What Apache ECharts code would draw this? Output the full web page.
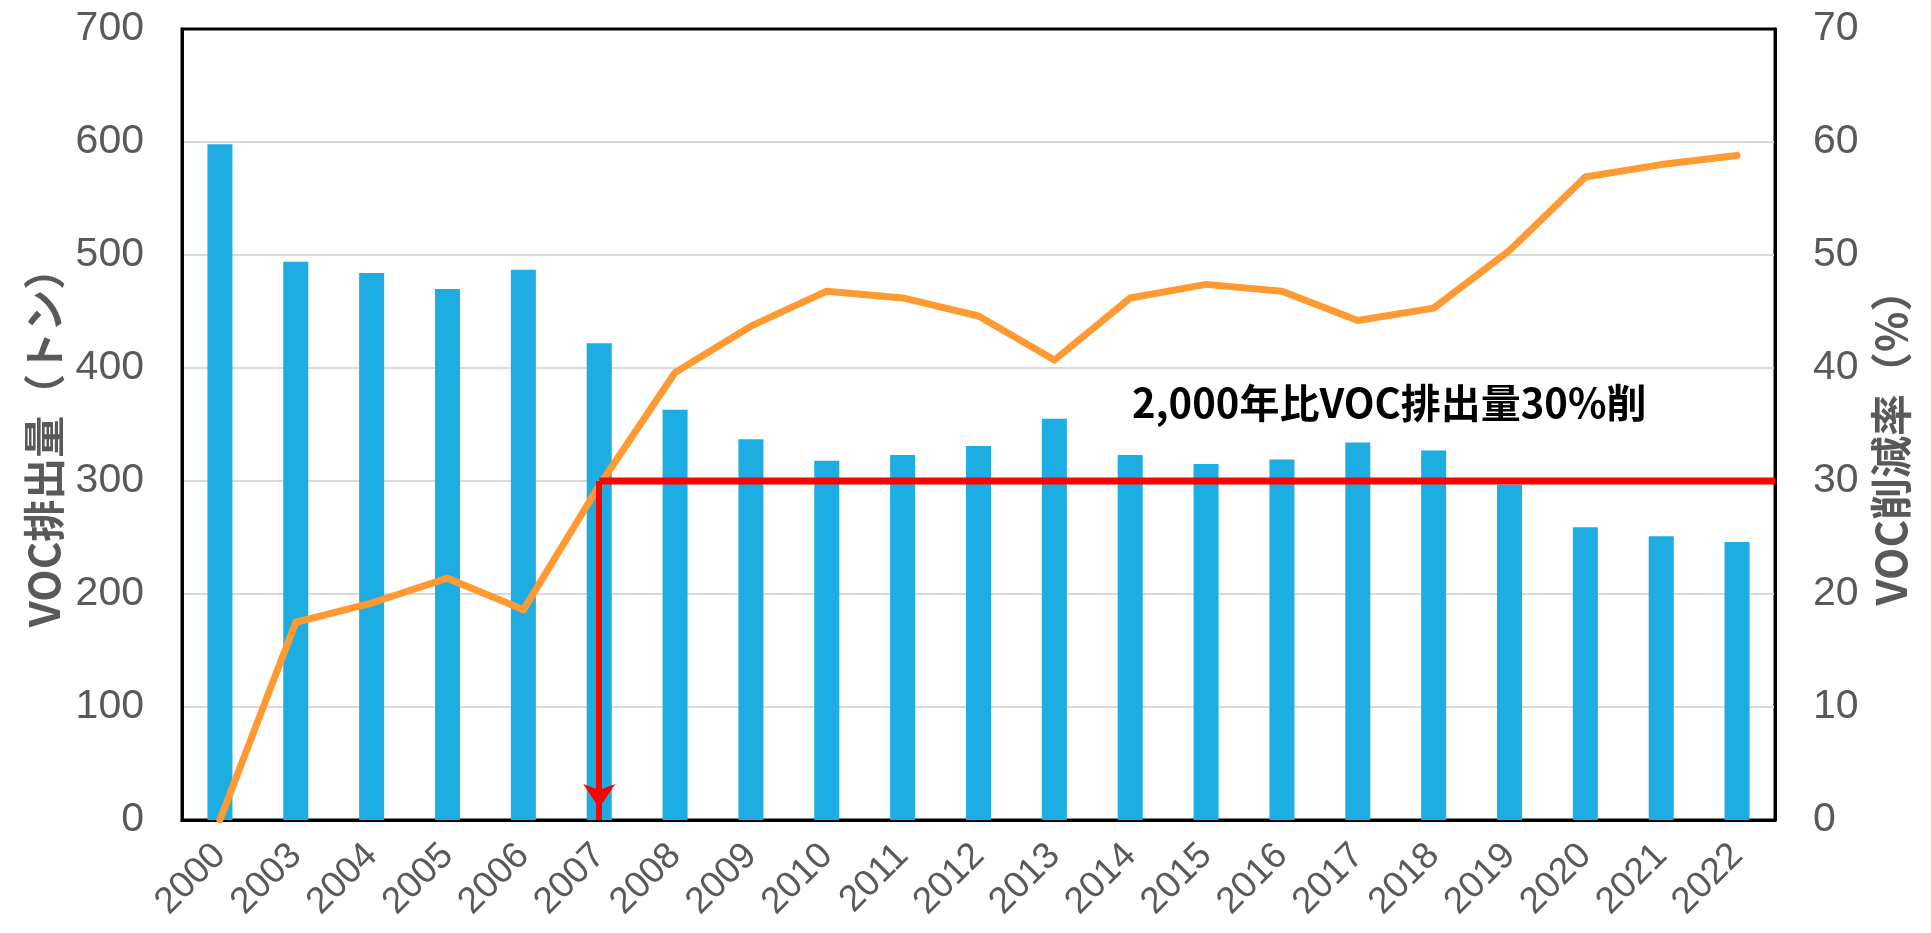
<!DOCTYPE html>
<html>
<head>
<meta charset="utf-8">
<title>VOC排出量と削減率</title>
<script src="https://cdn.jsdelivr.net/npm/echarts@6/dist/echarts.min.js"></script>
<style>
    html, body { margin: 0; padding: 0; background: #fff; }
    #chart { width: 1931px; height: 933px; }
</style>
</head>
<body>
<div id="chart"></div>
<script>
// 年
const years = ['2000', '2003', '2004', '2005', '2006', '2007', '2008', '2009', '2010', '2011', '2012',
    '2013', '2014', '2015', '2016', '2017', '2018', '2019', '2020', '2021', '2022'];
// VOC排出量（トン）
const emissions = [598, 494, 484, 470, 487, 422, 363, 337, 318, 323, 331,
    355, 323, 315, 319, 334, 327, 297, 259, 251, 246];
// VOC削減率（%）
const reductionRate = [0, 17.5, 19.2, 21.4, 18.6, 29.6, 39.6, 43.7, 46.8, 46.2, 44.6,
    40.7, 46.2, 47.4, 46.8, 44.2, 45.3, 50.4, 56.9, 58.0, 58.8];
// 30%削減ライン（2007年 → 右端）
const targetX = [5, 20.5];
const targetY = [300, 300];
const targetLabel = '2,000年比VOC排出量30%削';

const tickFont = '"Liberation Sans Narrow", "Liberation Sans", sans-serif';
const cjkFont = '"Noto Sans CJK JP", "Noto Sans", sans-serif';
const grey = '#595959';

let chart = echarts.init(document.getElementById('chart'));

let option = {
    animation: false,
    backgroundColor: '#fff',
    grid: {
        left: 182,
        right: 156,
        top: 29,
        bottom: 113,
        show: true,
        borderColor: '#000',
        borderWidth: 3
    },
    xAxis: [
        {
            type: 'category',
            data: years,
            axisLine: {lineStyle: {color: '#000', width: 3}},
            axisTick: {show: false},
            axisLabel: {
                interval: 0,
                rotate: 45,
                margin: 30,
                color: grey,
                fontFamily: tickFont,
                fontSize: 37
            }
        },
        {
            type: 'value',
            min: -0.5,
            max: 20.5,
            show: false
        }
    ],
    yAxis: [
        {
            type: 'value',
            min: 0,
            max: 700,
            interval: 100,
            name: 'VOC排出量（トン）',
            nameLocation: 'middle',
            nameRotate: 90,
            nameGap: 117,
            nameTextStyle: {
                color: grey,
                fontFamily: cjkFont,
                fontWeight: 'bold',
                fontSize: 42,
                padding: [0, 26, 0, 0]
            },
            axisLine: {show: true, onZero: false, lineStyle: {color: '#000', width: 3}},
            axisTick: {show: false},
            axisLabel: {
                margin: 38,
                color: grey,
                fontFamily: tickFont,
                fontSize: 41
            },
            splitLine: {showMinLine: false, showMaxLine: false, lineStyle: {color: '#d9d9d9', width: 2}}
        },
        {
            type: 'value',
            min: 0,
            max: 70,
            interval: 10,
            position: 'right',
            name: 'VOC削減率（%）',
            nameLocation: 'middle',
            nameRotate: 90,
            nameGap: 95,
            nameTextStyle: {
                color: grey,
                fontFamily: cjkFont,
                fontWeight: 'bold',
                fontSize: 42,
                padding: [0, 26, 0, 0]
            },
            axisLine: {show: true, onZero: false, lineStyle: {color: '#000', width: 3}},
            axisTick: {show: false},
            axisLabel: {
                margin: 38,
                color: grey,
                fontFamily: tickFont,
                fontSize: 41
            },
            splitLine: {show: false}
        }
    ],
    series: [
        {
            name: 'VOC排出量',
            type: 'bar',
            data: emissions,
            barWidth: '33%',
            itemStyle: {color: '#1dade3'},
            z: 2
        },
        {
            name: 'VOC削減率',
            type: 'line',
            yAxisIndex: 1,
            data: reductionRate,
            symbol: 'none',
            lineStyle: {color: '#ff9a33', width: 7, cap: 'round', join: 'round'},
            z: 3
        },
        {
            name: '30%削減',
            type: 'line',
            xAxisIndex: 1,
            yAxisIndex: 0,
            data: targetX.map((x, i) => [x, targetY[i]]),
            symbol: 'none',
            lineStyle: {color: '#ff0000', width: 7},
            z: 4,
            markLine: {
                silent: true,
                symbol: ['none', 'arrow'],
                symbolSize: [24, 24],
                symbolOffset: [0, [0, 12]],
                label: {show: false},
                lineStyle: {color: '#ff0000', width: 6, type: 'solid'},
                data: [
                    [{coord: [targetX[0], targetY[0]]}, {coord: [targetX[0], 0]}]
                ]
            }
        }
    ],
    graphic: [
        {
            type: 'text',
            left: 1132,
            top: 383,
            z: 100,
            style: {
                text: targetLabel,
                fill: '#000',
                font: 'bold 40px "Noto Sans CJK JP", sans-serif'
            }
        }
    ]
};

chart.setOption(option);
</script>
</body>
</html>
